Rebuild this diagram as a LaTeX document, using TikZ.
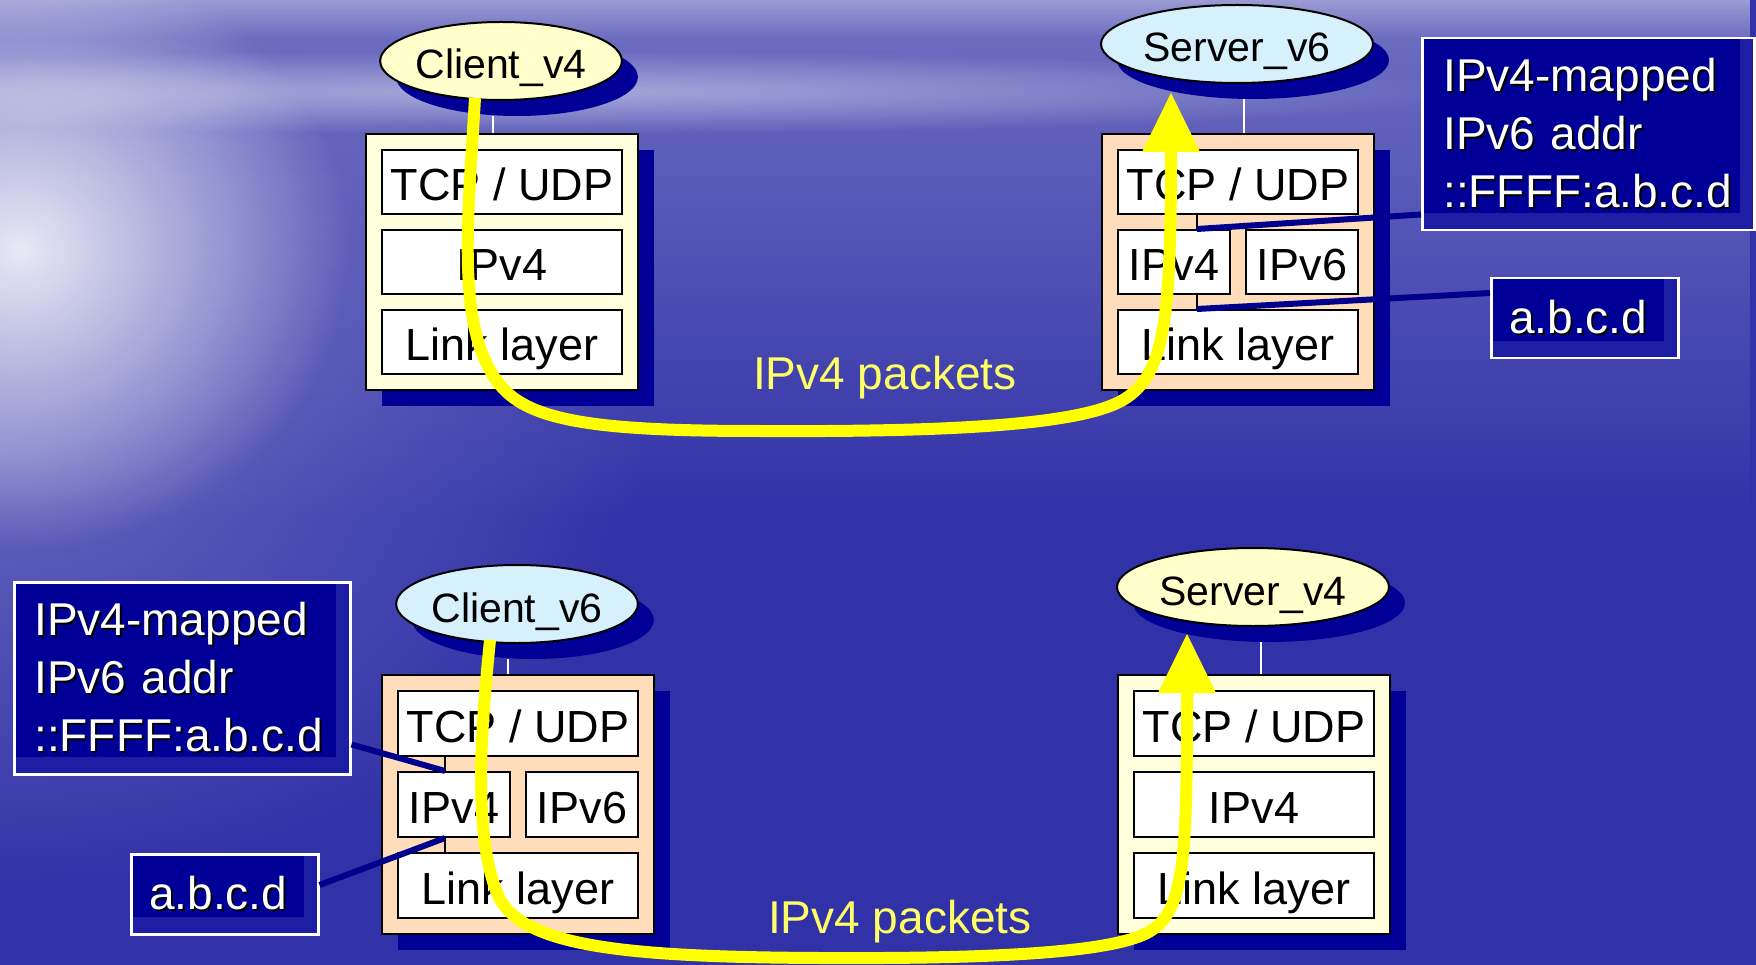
\documentclass[tikz,border=0pt]{standalone}
\usepackage{fontspec}
\setmainfont{Liberation Sans}
\usetikzlibrary{shapes.geometric,shadows,calc,fadings,arrows.meta}

\definecolor{seabase}{RGB}{50,50,168}
\definecolor{shadownavy}{RGB}{0,0,150}
\definecolor{calloutnavy}{RGB}{0,0,150}
\definecolor{grain}{RGB}{30,30,165}
\definecolor{cream}{RGB}{255,255,221}
\definecolor{hostyellow}{RGB}{255,255,204}
\definecolor{hostblue}{RGB}{214,240,252}
\definecolor{peach}{RGB}{255,220,186}
\definecolor{flowyellow}{RGB}{255,255,0}
\definecolor{pktyellow}{RGB}{255,255,102}
\definecolor{leadernavy}{RGB}{0,0,140}

\tikzfading[name=glowfade, inner color=transparent!0, outer color=transparent!100]
\tikzfading[name=topfade, top color=transparent!0, bottom color=transparent!100]

\newcommand\stackfont{\fontsize{45}{54}\selectfont}
\newcommand\hostfont{\fontsize{41}{49}\selectfont}
\newcommand\callfont{\fontsize{46}{58}\selectfont}
\newcommand\pktfont{\fontsize{46}{55}\selectfont}
% white text with a small dark drop shadow
\newcommand\dropsh[1]{\leavevmode\rlap{\kern2pt\raisebox{-2pt}{\color{black}#1}}#1}

\begin{document}
\begin{tikzpicture}[x=1pt,y=-1pt,
  stackbox/.style={draw=black, line width=2pt, anchor=north west, inner sep=0pt,
    minimum width=272pt,
    general shadow={fill=shadownavy, shadow xshift=16pt, shadow yshift=-16pt}},
  layer/.style={draw=black, line width=2pt, fill=white, anchor=north west,
    minimum width=240pt, minimum height=64pt, inner sep=0pt,
    font=\stackfont, text height=38pt, text depth=0pt},
  halflayer/.style={layer, minimum width=112pt},
  host/.style={ellipse, draw=black, line width=2pt, inner sep=0pt,
    minimum height=78pt, font=\hostfont, text height=36pt, text depth=0pt,
    general shadow={fill=shadownavy, shadow xshift=16pt, shadow yshift=-16pt}},
  stem/.style={draw=white, line width=2pt},
  tickline/.style={draw=black, line width=1.5pt},
  leader/.style={draw=leadernavy, line width=6pt},
  callout/.style={draw=white, line width=2.5pt, fill=calloutnavy, text=white,
    anchor=north west, inner ysep=0pt, align=left, font=\callfont,
    path picture={
      \fill[grain] ([xshift=-14pt]path picture bounding box.north east)
        rectangle (path picture bounding box.south east);
      \fill[grain] ([yshift=17pt]path picture bounding box.south west)
        rectangle (path picture bounding box.south east);}},
  packetflow/.style={draw=flowyellow, line width=12pt,
    -{Triangle[length=59pt, width=58pt, line width=0pt]}},
  pktlabel/.style={anchor=base west, inner sep=0pt, text=pktyellow, font=\pktfont}]

\useasboundingbox (0,0) rectangle (1756,965);

% sea and sky backdrop
\begin{scope}
  \clip (0,0) rectangle (1756,965);
  \fill[seabase] (0,0) rectangle (1756,965);
  \fill[white, opacity=0.30, path fading=topfade] (0,0) rectangle (1756,520);
  \fill[white, opacity=0.30, path fading=topfade] (0,0) rectangle (1756,40);
  \fill[white, opacity=0.45, path fading=glowfade] (520,92) ellipse [x radius=950pt, y radius=42pt];
  \fill[white, opacity=0.25, path fading=glowfade] (0,450) ellipse [x radius=650pt, y radius=450pt];
  \fill[white, opacity=0.85, path fading=glowfade] (20,250) ellipse [x radius=330pt, y radius=300pt];
\end{scope}

% ---- Client_v4 stack (top left)
\node[stackbox, fill=cream, minimum height=256pt] (tlBox) at (365,133) {};
\node[layer] (tlTcp)  at (381,149) {TCP / UDP};
\node[layer] (tlIp)   at (381,229) {IPv4};
\node[layer] (tlLink) at (381,309) {Link layer};

% ---- Server_v6 stack (top right)
\node[stackbox, fill=peach, minimum height=256pt] (trBox) at (1101,133) {};
\node[layer]     (trTcp)  at (1117,149) {TCP / UDP};
\node[halflayer] (trIp4)  at (1117,229) {IPv4};
\node[halflayer] (trIp6)  at (1245,229) {IPv6};
\node[layer]     (trLink) at (1117,309) {Link layer};

% ---- Client_v6 stack (bottom left)
\node[stackbox, fill=peach, minimum height=259pt] (blBox) at (381,674) {};
\node[layer, minimum height=65pt]     (blTcp)  at (397,690) {TCP / UDP};
\node[halflayer, minimum height=65pt] (blIp4)  at (397,771) {IPv4};
\node[halflayer, minimum height=65pt] (blIp6)  at (525,771) {IPv6};
\node[layer, minimum height=65pt]     (blLink) at (397,852) {Link layer};

% ---- Server_v4 stack (bottom right)
\node[stackbox, fill=cream, minimum height=259pt] (brBox) at (1117,674) {};
\node[layer, minimum height=65pt] (brTcp)  at (1133,690) {TCP / UDP};
\node[layer, minimum height=65pt] (brIp)   at (1133,771) {IPv4};
\node[layer, minimum height=65pt] (brLink) at (1133,852) {Link layer};

% ---- hosts
\node[host, fill=hostyellow, minimum width=239pt] (tlHost) at (501,61)  {Client\_v4};
\node[host, fill=hostblue,   minimum width=272pt] (trHost) at (1237,44) {Server\_v6};
\node[host, fill=hostblue,   minimum width=240pt] (blHost) at (517,604) {Client\_v6};
\node[host, fill=hostyellow, minimum width=272pt] (brHost) at (1253,587) {Server\_v4};

% stems between each host and its stack
\coordinate (tlStem) at ($(tlHost.center)+(-8,55)$);
\coordinate (trStem) at ($(trHost.center)+(7,55)$);
\coordinate (blStem) at ($(blHost.center)+(-9,55)$);
\coordinate (brStem) at ($(brHost.center)+(8,55)$);
\draw[stem] (tlStem) -- (tlStem |- tlBox.north);
\draw[stem] (trStem) -- (trStem |- trBox.north);
\draw[stem] (blStem) -- (blStem |- blBox.north);
\draw[stem] (brStem) -- (brStem |- brBox.north);

% ---- address callouts
\node[callout, minimum width=332pt, minimum height=192pt, text width=290pt, inner xsep=21pt]
  (trMapped) at (1421,37) {\dropsh{IPv4-mapped}\\\dropsh{IPv6 addr}\\\dropsh{::FFFF:a.b.c.d}};
\node[callout, minimum width=187pt, minimum height=80pt, text width=151pt, inner xsep=18pt]
  (trAddr) at (1490,277) {\dropsh{a.b.c.d}};
\node[callout, minimum width=336pt, minimum height=192pt, text width=296pt, inner xsep=20pt]
  (blMapped) at (13,581) {\dropsh{IPv4-mapped}\\\dropsh{IPv6 addr}\\\dropsh{::FFFF:a.b.c.d}};
\node[callout, minimum width=187pt, minimum height=80pt, text width=151pt, inner xsep=18pt]
  (blAddr) at (130,853) {\dropsh{a.b.c.d}};

% taps on the IPv4 layer and their leaders
\coordinate (trTap) at (1197,0);
\coordinate (blTap) at (445,0);
\draw[tickline] (trTcp.south -| trTap) -- (trIp4.north -| trTap);
\draw[tickline] (trIp4.south -| trTap) -- (trLink.north -| trTap);
\draw[tickline] (blTcp.south -| blTap) -- (blIp4.north -| blTap);
\draw[tickline] (blIp4.south -| blTap) -- (blLink.north -| blTap);
\draw[leader] (trIp4.north -| trTap) -- ($(trMapped.south west)+(0,-17)$);
\draw[leader] (trLink.north -| trTap) -- ($(trAddr.north west)+(0,16)$);
\draw[leader] ($(blMapped.south east)+(0,-31)$) -- (blIp4.north -| blTap);
\draw[leader] ($(blAddr.north east)+(0,32)$) -- (blIp4.south -| blTap);

% ---- packet paths
\node[pktlabel] (topPkt) at (753,390) {IPv4 packets};
\node[pktlabel] (botPkt) at (768,933) {IPv4 packets};

\coordinate (topFrom) at ($(tlHost.center)+(-26,37)$);
\coordinate (topTo)   at ($(trHost.center)+(-66,49)$);
\coordinate (botFrom) at ($(blHost.center)+(-27,36)$);
\coordinate (botTo)   at ($(brHost.center)+(-66,47)$);

\draw[packetflow] (topFrom)
  .. controls (468,220) and (455,330) .. (500,385)
  .. controls (530,422) and (600,431) .. (760,431)
  .. controls (950,432) and (1080,425) .. (1123,400)
  .. controls (1165,375) and (1171,320) .. (topTo);

\draw[packetflow] (botFrom)
  .. controls (482,720) and (472,830) .. (497,893)
  .. controls (518,946) and (620,957) .. (820,958)
  .. controls (1000,959) and (1110,952) .. (1147,933)
  .. controls (1185,913) and (1187,860) .. (botTo);

\end{tikzpicture}
\end{document}
